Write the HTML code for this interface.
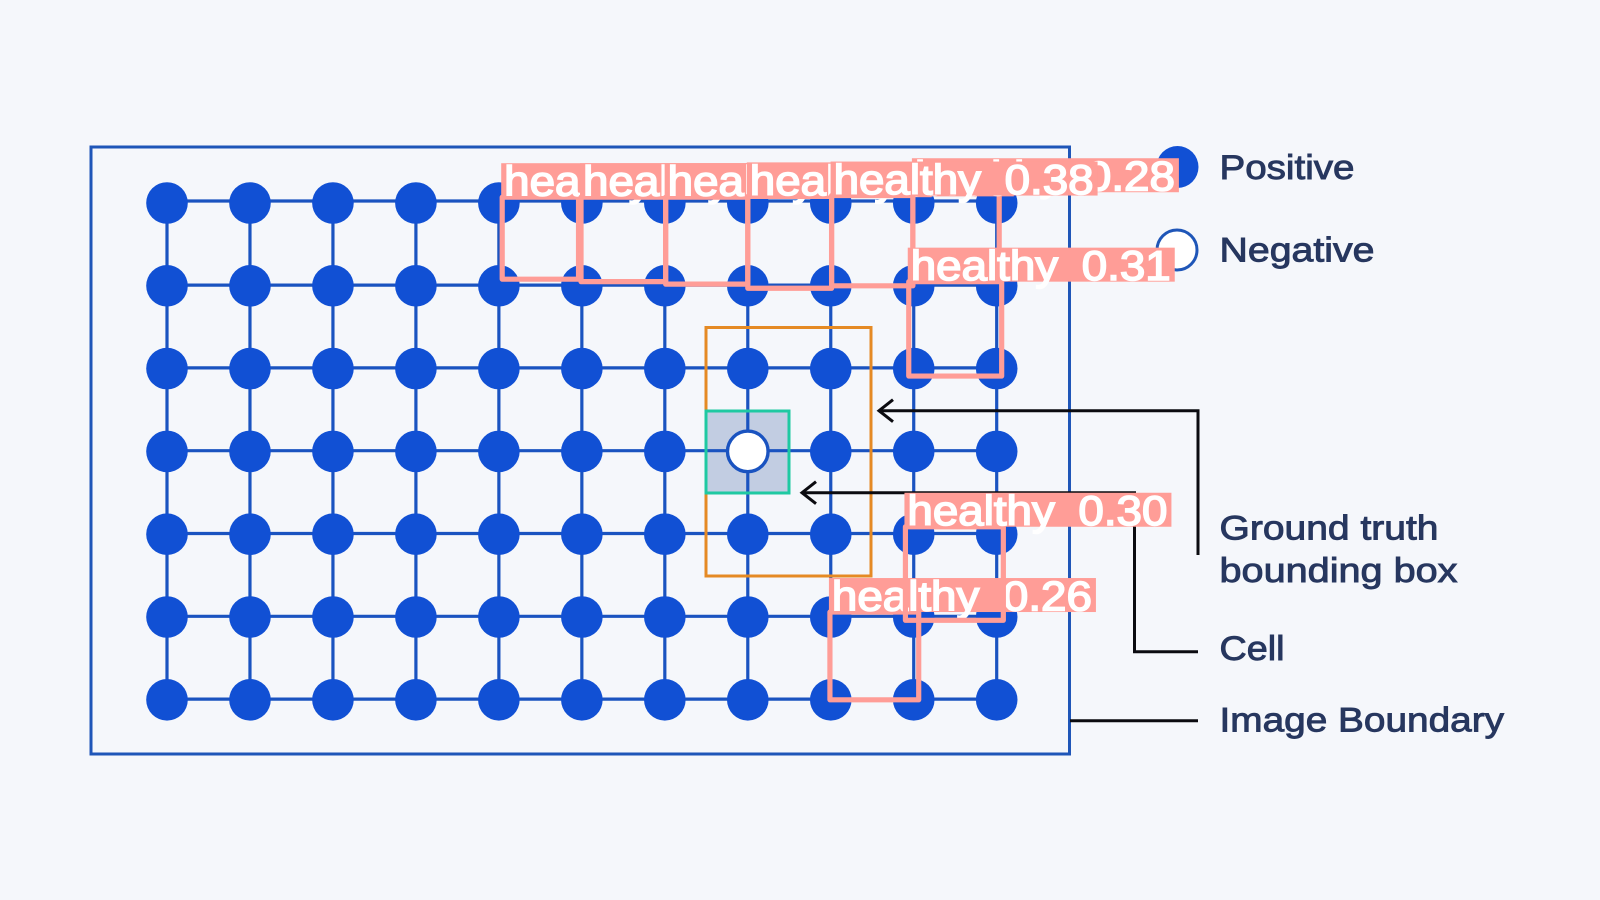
<!DOCTYPE html>
<html lang="en">
<head>
<meta charset="utf-8">
<title>Object detection grid diagram</title>
<style>
html,body{margin:0;padding:0;background:#f5f7fb;}
svg{display:block;}
.legend-text{font-family:"Liberation Sans",sans-serif;font-size:34.5px;fill:#27375f;stroke:#27375f;stroke-width:.9px;}
.det-text{font-family:"Liberation Sans",sans-serif;font-size:42px;word-spacing:10px;fill:#fff;stroke:#fff;stroke-width:1.6px;}
</style>
</head>
<body>
<svg id="diagram" xmlns="http://www.w3.org/2000/svg" width="1600" height="900" viewBox="0 0 1600 900">
  <rect x="0" y="0" width="1600" height="900" fill="#f5f7fb"/>
  <rect x="91" y="147" width="978.5" height="607" fill="none" stroke="#1f56b8" stroke-width="3"/>
  <rect x="706" y="411" width="83" height="82" fill="#c2cde2"/>
  <g id="grid-lines"></g>
  <g id="grid-nodes"></g>
  <rect x="706" y="327.500" width="165" height="248.500" fill="none" stroke="#e58a24" stroke-width="3"/>
  <rect x="706" y="411" width="83" height="82" fill="none" stroke="#1fc9a2" stroke-width="3"/>

  <circle cx="1177.500" cy="167" r="21" fill="#1150d4"/>
  <circle cx="1177" cy="250" r="20" fill="#fff" stroke="#1f56b8" stroke-width="3"/>

  <g fill="none" stroke="#0b0b10" stroke-width="3">
    <polyline points="880,410.700 1198,410.700 1198,555"/>
    <polyline points="893,399.700 879,410.700 893,421.700"/>
    <polyline points="803,492.700 1134.500,492.700 1134.500,651.700 1198,651.700"/>
    <polyline points="816,481.700 802,492.700 816,503.700"/>
    <line x1="1070" y1="720.700" x2="1198" y2="720.700"/>
  </g>

  <text class="legend-text" x="1219.500" y="179" textLength="135" lengthAdjust="spacingAndGlyphs">Positive</text>
  <text class="legend-text" x="1219.500" y="261.500" textLength="155" lengthAdjust="spacingAndGlyphs">Negative</text>
  <text class="legend-text" x="1219.500" y="539.500" textLength="219" lengthAdjust="spacingAndGlyphs">Ground truth</text>
  <text class="legend-text" x="1219.500" y="582" textLength="238" lengthAdjust="spacingAndGlyphs">bounding box</text>
  <text class="legend-text" x="1219.500" y="660" textLength="65" lengthAdjust="spacingAndGlyphs">Cell</text>
  <text class="legend-text" x="1219.500" y="731.700" textLength="284.500" lengthAdjust="spacingAndGlyphs">Image Boundary</text>

  <g id="detections"></g>
</svg>
<script>
// Grid definition
var columnIndices = [0, 1, 2, 3, 4, 5, 6, 7, 8, 9, 10];
var rowIndices = [0, 1, 2, 3, 4, 5, 6];
// Node that holds the negative (empty) cell, as column / row index
var negativeColumn = 7;
var negativeRow = 3;

// Detections in draw order; edges are expressed in grid units
var detectionLabels = ['healthy 0.28', 'healthy 0.33', 'healthy 0.34', 'healthy 0.35', 'healthy 0.36', 'healthy 0.38', 'healthy 0.31', 'healthy 0.26', 'healthy 0.30'];
var detectionLeft = [8.99, 4.04, 4.99, 6.01, 7.0, 8.01, 8.94, 7.99, 8.9];
var detectionRight = [10.03, 4.96, 6.01, 7.0, 8.01, 8.99, 10.06, 9.06, 10.08];
var detectionTop = [-0.13, -0.07, -0.07, -0.07, -0.08, -0.09, 0.95, 4.94, 3.91];
var detectionBottom = [0.91, 0.92, 0.95, 0.98, 1.03, 1.0, 2.09, 6.0, 5.04];

var NS = 'http://www.w3.org/2000/svg';
function xScale(c) { return 167 + 82.97 * c; }
function yScale(r) { return 203 + 82.8 * r; }
function make(tag, attrs, parent) {
  var el = document.createElementNS(NS, tag);
  for (var k in attrs) { el.setAttribute(k, attrs[k]); }
  parent.appendChild(el);
  return el;
}

var linesGroup = document.getElementById('grid-lines');
var nodesGroup = document.getElementById('grid-nodes');
var detGroup = document.getElementById('detections');
var firstCol = columnIndices[0], lastCol = columnIndices[columnIndices.length - 1];
var firstRow = rowIndices[0], lastRow = rowIndices[rowIndices.length - 1];

rowIndices.forEach(function (r) {
  var y = yScale(r) - (r === 0 ? 2 : 0.7);
  var line = make('line', { x1: xScale(firstCol), x2: xScale(lastCol), y1: y, y2: y, stroke: '#1a53c0', 'stroke-width': 3.2 }, linesGroup);
  
  
});
columnIndices.forEach(function (c) {
  var x = xScale(c);
  var line = make('line', { x1: x, x2: x, y1: yScale(firstRow), y2: yScale(lastRow), stroke: '#1a53c0', 'stroke-width': 3.2 }, linesGroup);
  
  
});

rowIndices.forEach(function (r) {
  columnIndices.forEach(function (c) {
    var negative = c === negativeColumn && r === negativeRow;
    var node = make('circle', {
      cx: xScale(c), cy: yScale(r), r: negative ? 20.3 : 20.8,
      fill: negative ? '#ffffff' : '#1150d4',
      stroke: negative ? '#1a53c0' : 'none',
      'stroke-width': negative ? 3.4 : 0
    }, nodesGroup);
    
    
  });
});

detectionLabels.forEach(function (label, i) {
  var x0 = xScale(detectionLeft[i]), x1 = xScale(detectionRight[i]);
  var y0 = yScale(detectionTop[i]), y1 = yScale(detectionBottom[i]);
  var box = make('rect', {
    x: x0, y: y0, width: x1 - x0, height: y1 - y0,
    fill: 'none', stroke: '#ff9d97', 'stroke-width': 5.2, 'stroke-linejoin': 'round'
  }, detGroup);
  
  
  var bg = make('rect', { x: x0 - 1, y: y0 - 34, width: 267, height: 34, fill: '#ff9d97' }, detGroup);
  
  
  var txt = make('text', {
    'class': 'det-text', x: x0 + 2, y: y0 - 1.5,
    textLength: 260, lengthAdjust: 'spacingAndGlyphs'
  }, detGroup);
  
  
  txt.textContent = label;
});
</script>
</body>
</html>
